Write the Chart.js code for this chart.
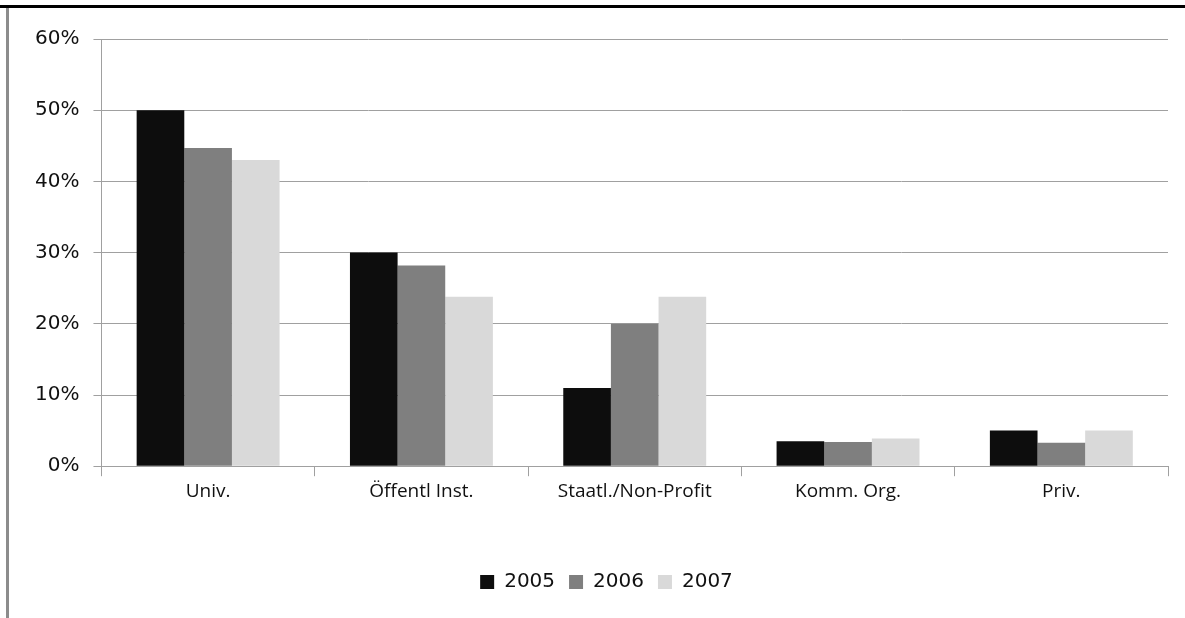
<!DOCTYPE html>
<html>
<head>
<meta charset="utf-8">
<script src="https://cdn.jsdelivr.net/npm/chart.js@4"></script>
<style>
  body { margin: 0; background: #fff; }
  #topline { position: absolute; left: 0; top: 5px; width: 1185px; height: 3px; background: #000; }
  #leftline { position: absolute; left: 6px; top: 8px; width: 3px; height: 610px; background: #8c8c8c; }
  #wrap { position: absolute; left: 9px; top: 8px; width: 1176px; height: 610px; }
</style>
</head>
<body>
<div id="topline"></div>
<div id="leftline"></div>
<div id="wrap"><canvas id="chart"></canvas></div>
<script>
// Categories and series (percent)
const categories = ['Univ.', 'Öffentl Inst.', 'Staatl./Non-Profit', 'Komm. Org.', 'Priv.'];
const years = ['2005', '2006', '2007'];
const values2005 = [50, 30, 11, 3.5, 5];
const values2006 = [44.7, 28.2, 20, 3.4, 3.3];
const values2007 = [43, 23.8, 23.8, 3.9, 5];
const colors = ['#0d0d0d', '#7f7f7f', '#d9d9d9'];

const ctx = document.getElementById('chart').getContext('2d');
Chart.defaults.color = '#111';

// nudge the legend a bit to the right, like the original
const legendShift = {
  id: 'legendShift',
  afterLayout(chart) {
    chart.legend.left += 12;
    chart.legend.right += 12;
  },
};

new Chart(ctx, {
  type: 'bar',
  data: {
    labels: categories,
    datasets: [values2005, values2006, values2007].map((vals, i) => ({
      label: years[i],
      data: vals,
      backgroundColor: colors[i],
      borderWidth: 0,
      categoryPercentage: 0.67,
      barPercentage: 1.0,
    })),
  },
  options: {
    responsive: true,
    maintainAspectRatio: false,
    animation: false,
    layout: { padding: { top: 31, right: 17, left: 12, bottom: 16 } },
    plugins: {
      legend: {
        position: 'bottom',
        labels: { boxWidth: 14, boxHeight: 14, padding: 14, font: { family: 'DejaVu Sans', size: 20 } },
      },
      tooltip: { enabled: false },
    },
    scales: {
      x: {
        grid: { offset: true, drawOnChartArea: false, color: '#a0a0a0', tickLength: 10, lineWidth: 1 },
        border: { color: '#a0a0a0' },
        ticks: { font: { family: 'Open Sans', size: 19 }, padding: 4 },
        afterFit: scale => { scale.height += 51; },
      },
      y: {
        min: 0, max: 60,
        ticks: { stepSize: 10, callback: v => v + '%', font: { family: 'DejaVu Sans', size: 20 }, padding: 14 },
        grid: { color: '#a0a0a0', tickLength: 8 },
        border: { color: '#a0a0a0' },
      },
    },
  },
  plugins: [legendShift],
});
</script>
</body>
</html>
